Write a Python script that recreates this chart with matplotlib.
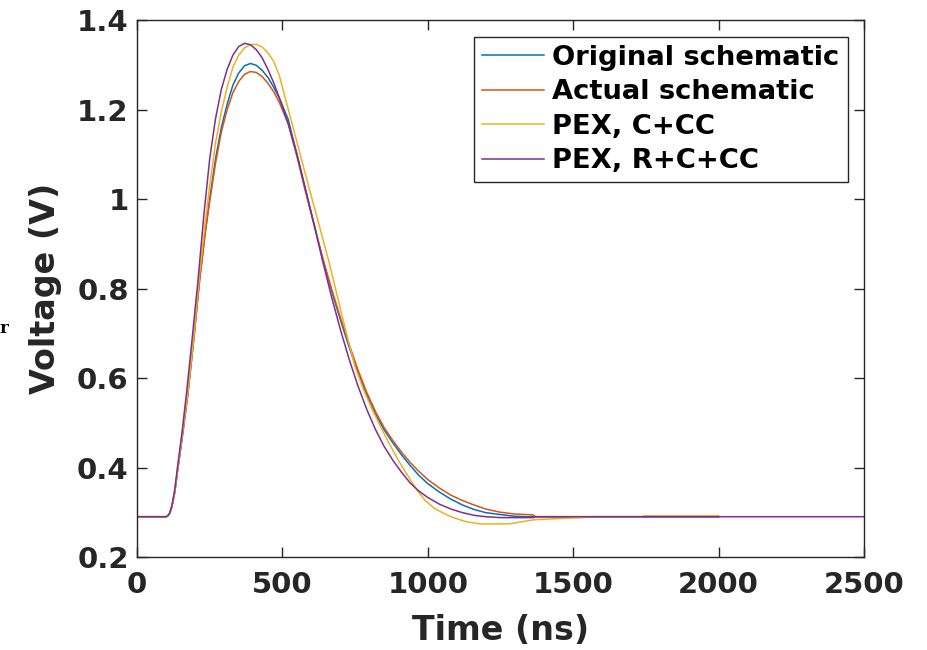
import matplotlib
matplotlib.use('Agg')
import matplotlib.pyplot as plt

# time (ns) and voltage (V), one pair of lists per trace
t_orig = [0, 100, 106, 112, 120, 130, 140, 155, 175, 195, 215, 235, 250, 270, 290, 310, 330, 350,
          370, 390, 410, 430, 450, 470, 490, 520, 550, 580, 610, 640, 670, 700, 730, 760, 790,
          820, 850, 880, 910, 940, 970, 1000, 1040, 1080, 1120, 1160, 1200, 1260, 1300, 1340, 2000]
v_orig = [0.29, 0.29, 0.292, 0.297, 0.312, 0.345, 0.395, 0.465, 0.565, 0.685, 0.82, 0.93, 1.0, 1.09,
          1.16, 1.212, 1.255, 1.282, 1.298, 1.303, 1.299, 1.288, 1.272, 1.25, 1.225, 1.178, 1.10, 1.02,
          0.94, 0.862, 0.793, 0.729, 0.668, 0.612, 0.563, 0.52, 0.484, 0.455, 0.428, 0.404, 0.382,
          0.364, 0.345, 0.329, 0.316, 0.306, 0.299, 0.294, 0.291, 0.29, 0.29]

t_act = [0, 100, 106, 112, 120, 130, 140, 155, 175, 195, 215, 235, 250, 270, 290, 310, 330, 350,
         370, 390, 410, 430, 450, 470, 490, 520, 550, 580, 610, 640, 670, 700, 730, 760, 790,
         820, 850, 880, 910, 940, 970, 1000, 1040, 1080, 1120, 1160, 1200, 1250, 1300, 1363, 1370, 2000]
v_act = [0.29, 0.29, 0.292, 0.297, 0.312, 0.345, 0.395, 0.465, 0.565, 0.685, 0.815, 0.925, 0.995,
         1.08, 1.15, 1.2, 1.238, 1.263, 1.279, 1.285, 1.283, 1.274, 1.259, 1.24, 1.215, 1.168, 1.095,
         1.015, 0.94, 0.865, 0.797, 0.734, 0.674, 0.618, 0.568, 0.525, 0.489, 0.46, 0.434, 0.411,
         0.391, 0.373, 0.354, 0.338, 0.326, 0.316, 0.307, 0.3, 0.296, 0.294, 0.29, 0.29]

t_c = [0, 100, 106, 112, 120, 130, 140, 155, 175, 195, 215, 235, 250, 270, 290, 310, 330, 350,
       370, 390, 410, 430, 450, 470, 490, 510, 540, 570, 600, 630, 660, 690, 720, 750, 780, 810,
       840, 870, 900, 930, 960, 990, 1020, 1053, 1088, 1130, 1180, 1280, 1363, 1455, 1535, 1545,
       1740, 1741, 2000]
v_c = [0.29, 0.29, 0.292, 0.297, 0.313, 0.348, 0.398, 0.47, 0.57, 0.69, 0.83, 0.95, 1.03, 1.125,
       1.195, 1.25, 1.295, 1.322, 1.338, 1.345, 1.346, 1.34, 1.327, 1.308, 1.275, 1.225, 1.152,
       1.078, 1.005, 0.933, 0.86, 0.78, 0.70, 0.625, 0.572, 0.528, 0.488, 0.45, 0.415, 0.383,
       0.352, 0.327, 0.31, 0.298, 0.288, 0.279, 0.274, 0.274, 0.283, 0.286, 0.288, 0.29,
       0.29, 0.292, 0.292]

t_rcc = [0, 100, 106, 112, 120, 130, 140, 155, 170, 190, 210, 230, 250, 270, 290, 310, 330, 350,
         370, 390, 410, 430, 450, 470, 490, 520, 550, 580, 610, 640, 670, 700, 730, 760, 790,
         820, 850, 880, 910, 940, 970, 1000, 1040, 1080, 1120, 1160, 1200, 1250, 1363, 1370, 2500]
v_rcc = [0.29, 0.29, 0.292, 0.298, 0.315, 0.352, 0.405, 0.48, 0.565, 0.69, 0.82, 0.965, 1.09, 1.18,
         1.245, 1.29, 1.322, 1.341, 1.348, 1.345, 1.334, 1.316, 1.29, 1.26, 1.225, 1.168, 1.10, 1.02,
         0.94, 0.857, 0.779, 0.707, 0.641, 0.582, 0.53, 0.485, 0.447, 0.416, 0.389, 0.365, 0.347,
         0.333, 0.318, 0.307, 0.299, 0.293, 0.29, 0.288, 0.288, 0.29, 0.29]

labels = ['Original schematic', 'Actual schematic', 'PEX, C+CC', 'PEX, R+C+CC']
colors = ['#0072BD', '#D95319', '#EDB120', '#7E2F8E']

xticks = [0, 500, 1000, 1500, 2000, 2500]
yticks = [0.2, 0.4, 0.6, 0.8, 1.0, 1.2, 1.4]
ytick_labels = ['0.2', '0.4', '0.6', '0.8', '1', '1.2', '1.4']

plt.rcParams['font.family'] = ['DejaVu Sans']
plt.rcParams['font.weight'] = 'bold'

fig = plt.figure(figsize=(9.27, 6.5), dpi=100)
ax = fig.add_axes([0.1478, 0.1431, 0.7842, 0.826])

series = [(t_orig, v_orig), (t_act, v_act), (t_c, v_c), (t_rcc, v_rcc)]
for (t, v), lab, col in zip(series, labels, colors):
    ax.plot(t, v, color=col, lw=1.1, label=lab)

ax.set_xlim(0, 2500)
ax.set_ylim(0.2, 1.4)
ax.set_xticks(xticks)
ax.set_xticklabels([str(x) for x in xticks])
ax.set_yticks(yticks)
ax.set_yticklabels(ytick_labels)

dark = '#262626'
for s in ax.spines.values():
    s.set_color(dark)
    s.set_linewidth(1.0)
ax.tick_params(direction='in', length=7, width=1.0, colors=dark, labelsize=21,
               top=True, right=True, pad=6)
ax.tick_params(axis='x', pad=10)
for lbl in ax.get_xticklabels() + ax.get_yticklabels():
    lbl.set_fontweight('bold')

ax.set_xlabel('Time (ns)', fontsize=24, fontweight='bold', color=dark, labelpad=11)
ax.set_ylabel('Voltage (V)', fontsize=24, fontweight='bold', color=dark, labelpad=11)

leg = ax.legend(loc='upper right', frameon=True, fancybox=False,
                handlelength=2.25, handletextpad=0.3, labelspacing=0.31,
                borderpad=0.3, borderaxespad=0.6, prop={'weight': 'bold', 'size': 19.7})
leg.get_frame().set_edgecolor(dark)
leg.get_frame().set_linewidth(1.0)
leg.get_frame().set_alpha(1)

# stray glyph cut off at the left edge of the reference
fig.text(0.0, 0.487, 'r', fontsize=12, family='DejaVu Serif', color='black')

fig.savefig('out.png', dpi=100)
